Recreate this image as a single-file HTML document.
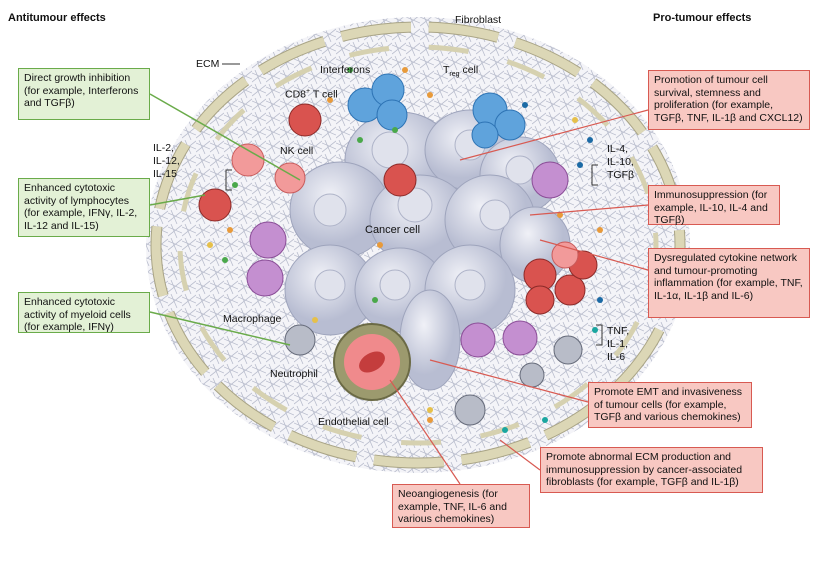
<!DOCTYPE html>
<html><head><meta charset="utf-8"><style>
body{margin:0;background:#fff;width:831px;height:576px;overflow:hidden;font-family:"Liberation Sans",sans-serif}
.b{position:absolute;font-size:10.5px;line-height:12.5px;padding:3px 5px;box-sizing:border-box;color:#111}
.g{background:#e3f1d6;border:1px solid #6aab4a}
.p{background:#f8c8c2;border:1px solid #d85a52}
.t{position:absolute;font-size:10.5px;color:#111}
</style></head><body>
<svg width="831" height="576" style="position:absolute;left:0;top:0">
<defs>
<pattern id="m" width="14" height="14" patternUnits="userSpaceOnUse"><path d="M0 3 L14 9 M3 0 L9 14 M0 12 L14 1" stroke="#b9bdcd" stroke-width="0.8"/></pattern>
<radialGradient id="cc" cx="40%" cy="35%"><stop offset="0" stop-color="#f0f1f7"/><stop offset="1" stop-color="#b8bdd2"/></radialGradient>
</defs>
<ellipse cx="418" cy="245" rx="272" ry="228" fill="#f4f4f8"/>
<ellipse cx="418" cy="245" rx="272" ry="228" fill="url(#m)"/>
<ellipse cx="418" cy="245" rx="262" ry="218" fill="none" stroke="#a9a486" stroke-width="11" stroke-dasharray="70 18"/>
<ellipse cx="418" cy="245" rx="262" ry="218" fill="none" stroke="#dcd7b6" stroke-width="9" stroke-dasharray="70 18"/>
<ellipse cx="418" cy="245" rx="238" ry="198" fill="none" stroke="#d6d1b0" stroke-width="5" stroke-dasharray="40 40"/>
<g fill="url(#cc)" stroke="#9ea4bc" stroke-width="1">
<ellipse cx="400" cy="160" rx="55" ry="48"/><ellipse cx="470" cy="150" rx="45" ry="40"/><ellipse cx="520" cy="175" rx="40" ry="38"/>
<ellipse cx="340" cy="210" rx="50" ry="48"/><ellipse cx="420" cy="220" rx="50" ry="45"/><ellipse cx="490" cy="220" rx="45" ry="45"/>
<ellipse cx="535" cy="245" rx="35" ry="38"/><ellipse cx="330" cy="290" rx="45" ry="45"/><ellipse cx="400" cy="290" rx="45" ry="42"/>
<ellipse cx="470" cy="290" rx="45" ry="45"/><ellipse cx="430" cy="340" rx="30" ry="50"/>
</g>
<g fill="#e0e2ec" stroke="#aeb3c8"><circle cx="390" cy="150" r="18"/><circle cx="470" cy="145" r="15"/><circle cx="520" cy="170" r="14"/><circle cx="330" cy="210" r="16"/><circle cx="415" cy="205" r="17"/><circle cx="495" cy="215" r="15"/><circle cx="330" cy="285" r="15"/><circle cx="395" cy="285" r="15"/><circle cx="470" cy="285" r="15"/></g>
<g fill="#5fa3dc" stroke="#2d73b4"><circle cx="365" cy="105" r="17"/><circle cx="388" cy="90" r="16"/><circle cx="392" cy="115" r="15"/><circle cx="490" cy="110" r="17"/><circle cx="510" cy="125" r="15"/><circle cx="485" cy="135" r="13"/></g>
<g fill="#d9534f" stroke="#8c2a28"><circle cx="305" cy="120" r="16"/><circle cx="400" cy="180" r="16"/><circle cx="215" cy="205" r="16"/><circle cx="540" cy="275" r="16"/><circle cx="570" cy="290" r="15"/><circle cx="540" cy="300" r="14"/><circle cx="583" cy="265" r="14"/></g>
<g fill="#f29a9a" stroke="#c85b5b"><circle cx="248" cy="160" r="16"/><circle cx="290" cy="178" r="15"/><circle cx="565" cy="255" r="13"/></g>
<g fill="#c48fd0" stroke="#8a4d97"><circle cx="268" cy="240" r="18"/><circle cx="265" cy="278" r="18"/><circle cx="550" cy="180" r="18"/><circle cx="478" cy="340" r="17"/><circle cx="520" cy="338" r="17"/></g>
<g fill="#b8bcc8" stroke="#666b7a"><circle cx="300" cy="340" r="15"/><circle cx="470" cy="410" r="15"/><circle cx="568" cy="350" r="14"/><circle cx="532" cy="375" r="12"/></g>
<circle cx="372" cy="362" r="38" fill="#9c9a6e" stroke="#6b6a45" stroke-width="2"/>
<circle cx="372" cy="362" r="28" fill="#f08a8c"/>
<ellipse cx="372" cy="362" rx="14" ry="9" fill="#c43d3d" transform="rotate(-30 372 362)"/>
<g fill="#e89a3a"><circle cx="405" cy="70" r="3"/><circle cx="430" cy="95" r="3"/><circle cx="330" cy="100" r="3"/><circle cx="230" cy="230" r="3"/><circle cx="380" cy="245" r="3"/><circle cx="560" cy="215" r="3"/><circle cx="600" cy="230" r="3"/><circle cx="430" cy="420" r="3"/></g>
<g fill="#4aa84a"><circle cx="360" cy="140" r="3"/><circle cx="235" cy="185" r="3"/><circle cx="225" cy="260" r="3"/><circle cx="375" cy="300" r="3"/><circle cx="350" cy="70" r="3"/><circle cx="395" cy="130" r="3"/></g>
<g fill="#1b6aa5"><circle cx="590" cy="140" r="3"/><circle cx="580" cy="165" r="3"/><circle cx="525" cy="105" r="3"/><circle cx="600" cy="300" r="3"/></g>
<g fill="#1aa6a0"><circle cx="595" cy="330" r="3"/><circle cx="545" cy="420" r="3"/><circle cx="505" cy="430" r="3"/></g>
<g fill="#e6c04a"><circle cx="210" cy="245" r="3"/><circle cx="315" cy="320" r="3"/><circle cx="430" cy="410" r="3"/><circle cx="575" cy="120" r="3"/></g>
<g stroke="#6aab4a" stroke-width="1.5" fill="none">
<path d="M150 94 L300 180"/><path d="M150 205 L205 195"/><path d="M150 312 L290 345"/></g>
<g stroke="#d85a52" stroke-width="1.2" fill="none">
<path d="M648 110 L460 160"/><path d="M648 205 L530 215"/><path d="M648 270 L540 240"/><path d="M588 402 L430 360"/><path d="M540 470 L500 440"/><path d="M460 484 L390 380"/></g>
<g stroke="#333" fill="none"><path d="M598 165 H592 V185 H598"/><path d="M232 170 H226 V190 H232"/><path d="M596 325 H602 V345 H596"/></g>
<path d="M222 64 L240 64" stroke="#333"/>
</svg>
<div class="t" style="left:8px;top:12px;font-weight:bold;font-size:11px">Antitumour effects</div>
<div class="t" style="left:653px;top:12px;font-weight:bold;font-size:11px">Pro-tumour effects</div>
<div class="t" style="left:455px;top:14px">Fibroblast</div>
<div class="t" style="left:196px;top:58px">ECM</div>
<div class="t" style="left:320px;top:64px">Interferons</div>
<div class="t" style="left:443px;top:64px">T<sub style="font-size:7px">reg</sub> cell</div>
<div class="t" style="left:285px;top:88px">CD8<sup style="font-size:7px">+</sup> T cell</div>
<div class="t" style="left:280px;top:145px">NK cell</div>
<div class="t" style="left:153px;top:142px;line-height:13px">IL-2,<br>IL-12,<br>IL-15</div>
<div class="t" style="left:607px;top:143px;line-height:13px">IL-4,<br>IL-10,<br>TGFβ</div>
<div class="t" style="left:607px;top:325px;line-height:13px">TNF,<br>IL-1,<br>IL-6</div>
<div class="t" style="left:365px;top:224px;font-size:11px">Cancer cell</div>
<div class="t" style="left:223px;top:313px">Macrophage</div>
<div class="t" style="left:270px;top:368px">Neutrophil</div>
<div class="t" style="left:318px;top:416px">Endothelial cell</div>
<div class="b g" style="left:18px;top:68px;width:132px;height:52px">Direct growth inhibition (for example, Interferons and TGFβ)</div>
<div class="b g" style="left:18px;top:178px;width:132px;height:59px">Enhanced cytotoxic activity of lymphocytes (for example, IFNγ, IL-2, IL-12 and IL-15)</div>
<div class="b g" style="left:18px;top:292px;width:132px;height:41px">Enhanced cytotoxic activity of myeloid cells (for example, IFNγ)</div>
<div class="b p" style="left:648px;top:70px;width:162px;height:60px">Promotion of tumour cell survival, stemness and proliferation (for example, TGFβ, TNF, IL-1β and CXCL12)</div>
<div class="b p" style="left:648px;top:185px;width:132px;height:40px">Immunosuppression (for example, IL-10, IL-4 and TGFβ)</div>
<div class="b p" style="left:648px;top:248px;width:162px;height:70px">Dysregulated cytokine network and tumour-promoting inflammation (for example, TNF, IL-1α, IL-1β and IL-6)</div>
<div class="b p" style="left:588px;top:382px;width:164px;height:46px">Promote EMT and invasiveness of tumour cells (for example, TGFβ and various chemokines)</div>
<div class="b p" style="left:540px;top:447px;width:223px;height:46px">Promote abnormal ECM production and immunosuppression by cancer-associated fibroblasts (for example, TGFβ and IL-1β)</div>
<div class="b p" style="left:392px;top:484px;width:138px;height:44px">Neoangiogenesis (for example, TNF, IL-6 and various chemokines)</div>
</body></html>
